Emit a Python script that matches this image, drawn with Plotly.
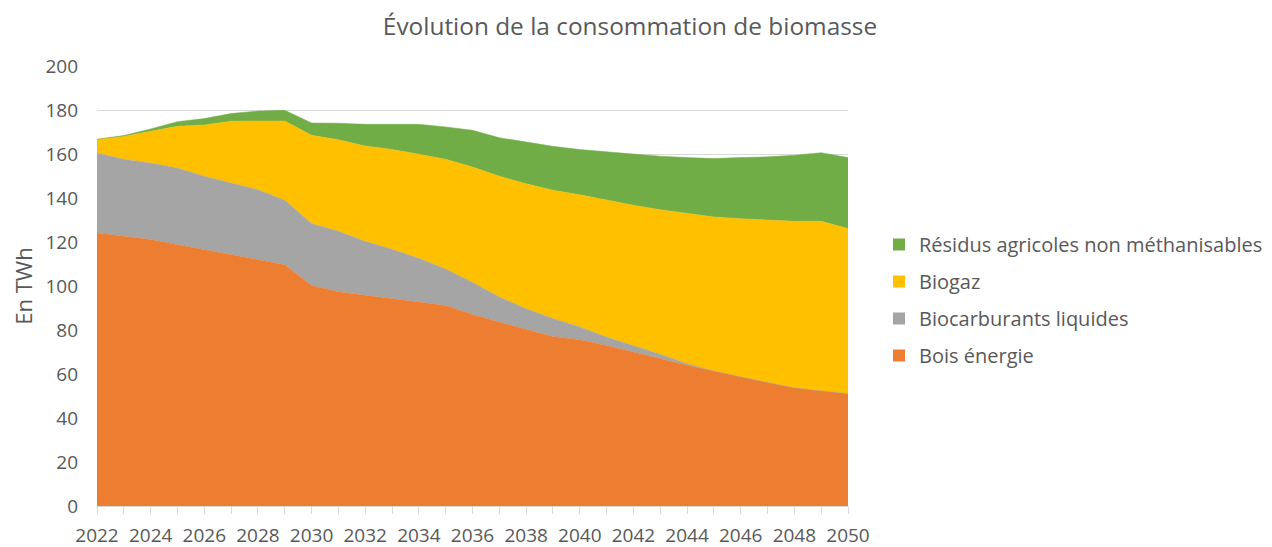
import plotly.graph_objects as go

years = list(range(2022, 2051))

bois_energie = [124.1, 122.6, 121.1, 118.8, 116.5, 114.4, 112.1, 109.7, 100.2, 97.4,
                95.8, 94.1, 92.7, 91.1, 87.1, 83.6, 80.2, 77.1, 75.6, 73.0,
                70.0, 67.0, 64.0, 61.4, 58.7, 56.1, 53.7, 52.3, 51.1]
biocarburants = [36.4, 35.0, 34.8, 34.8, 33.4, 32.6, 31.7, 29.3, 28.2, 27.5,
                 24.5, 22.6, 19.9, 16.6, 14.6, 11.4, 9.5, 8.1, 5.8, 3.8,
                 3.0, 2.0, 0.7, 0.0, 0.0, 0.0, 0.0, 0.0, 0.0]
biogaz = [6.2, 10.4, 14.4, 19.0, 23.3, 27.9, 31.2, 36.0, 40.1, 41.6,
          43.3, 45.4, 47.3, 49.9, 52.4, 54.9, 56.8, 58.3, 60.1, 62.2,
          63.7, 65.7, 68.2, 70.0, 71.9, 73.8, 75.7, 77.1, 75.0]
residus = [0.0, 0.4, 1.1, 2.1, 2.9, 3.5, 4.5, 4.9, 5.6, 7.5,
           9.9, 11.4, 13.6, 14.7, 16.7, 17.5, 19.0, 20.0, 20.5, 21.9,
           23.2, 24.3, 25.5, 26.5, 27.8, 28.8, 30.0, 31.2, 32.3]

series = [
    ("Bois énergie", bois_energie, "#ED7D31"),
    ("Biocarburants liquides", biocarburants, "#A5A5A5"),
    ("Biogaz", biogaz, "#FFC000"),
    ("Résidus agricoles non méthanisables", residus, "#70AD47"),
]

text_color = "#595959"
grid_color = "#D9D9D9"

fig = go.Figure()
for name, values, color in series:
    fig.add_trace(go.Scatter(
        x=years,
        y=values,
        name=name,
        mode="lines",
        stackgroup="one",
        line=dict(width=0.5, color=color),
        fillcolor=color,
        showlegend=False,
    ))

# square legend keys, listed top-down like the original
for name, values, color in reversed(series):
    fig.add_trace(go.Scatter(
        x=[None],
        y=[None],
        name=name,
        mode="markers",
        marker=dict(symbol="square", size=12, color=color),
        legendgroup=name,
        hoverinfo="skip",
    ))

fig.update_layout(
    width=1272,
    height=547,
    title=dict(
        text="Évolution de la consommation de biomasse",
        x=(630 - 8) / 1272,
        xanchor="center",
        y=1 - (26 - 8) / 547,
        yanchor="middle",
        font=dict(size=24.4, color=text_color),
    ),
    font=dict(family="Open Sans, sans-serif", size=16, color=text_color),
    paper_bgcolor="white",
    plot_bgcolor="white",
    margin=dict(l=89, r=432, t=58, b=49, autoexpand=False),
    xaxis=dict(
        range=[2022, 2050],
        tick0=2022,
        dtick=2,
        ticks="outside",
        ticklen=7,
        tickcolor=grid_color,
        showgrid=False,
        showline=True,
        linecolor=grid_color,
        zeroline=False,
        automargin=False,
        ticklabelstandoff=5,
        tickfont=dict(size=19, color=text_color),
        minor=dict(ticks="outside", dtick=1, ticklen=7, tickcolor=grid_color),
    ),
    yaxis=dict(
        range=[0, 200],
        dtick=20,
        showgrid=True,
        gridcolor=grid_color,
        zeroline=False,
        ticks="",
        automargin=False,
        ticklabelstandoff=18,
        tickfont=dict(size=19, color=text_color),
        title=dict(text="En TWh", font=dict(size=22, color=text_color), standoff=15),
    ),
    legend=dict(
        x=(879 - 97) / 751,
        xanchor="left",
        y=(506 - 300) / 440,
        yanchor="middle",
        itemwidth=30,
        tracegroupgap=8,
        font=dict(size=20, color=text_color),
        bgcolor="rgba(0,0,0,0)",
    ),
    hovermode="x unified",
)

fig.write_html("out.html")
